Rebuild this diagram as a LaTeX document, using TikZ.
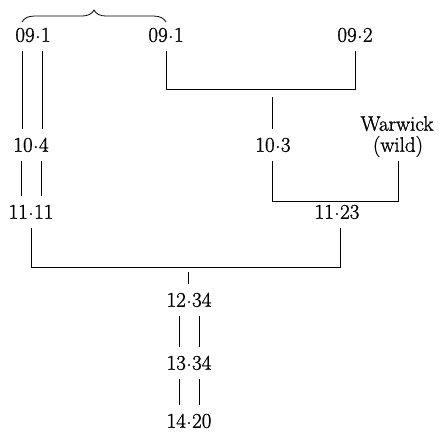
\documentclass[tikz,border=0pt]{standalone}
\usepackage{fontspec}
\usetikzlibrary{decorations.pathreplacing}
\newfontfamily\labfont{Latin Modern Roman}[FakeBold=1.1]
% raised decimal point
\newcommand\dpt{\kern0.5pt\raisebox{0.42ex}{.}\kern0.5pt}
\begin{document}
\begin{tikzpicture}[x=1pt,y=-1pt,
  lab/.style={inner xsep=2pt, inner ysep=9pt, text height=13.5pt, text depth=0pt,
              font=\labfont\fontsize{21}{24}\selectfont},
  link/.style={line width=0.8pt},
  grouping/.style={line width=0.8pt, decorate,
                   decoration={brace, amplitude=12pt, raise=-3pt}}]
\useasboundingbox (0,0) rectangle (439,431);

% generation 09
\node[lab] (a1) at (33,35)  {09\dpt 1};
\node[lab] (a2) at (166,35) {09\dpt 1};
\node[lab] (a3) at (355,35) {09\dpt 2};
% generation 10
\node[lab] (b1) at (31,145)  {10\dpt 4};
\node[lab] (b2) at (273,145) {10\dpt 3};
\node[lab] (w1) at (397,124) {Warwick};
\node[lab] (w2) at (398,145) {(wild)};
% generation 11
\node[lab] (c1) at (31,212)  {11\dpt 11};
\node[lab] (c2) at (337,212) {11\dpt 23};
% later generations
\node[lab] (d) at (189,300) {12\dpt 34};
\node[lab] (e) at (189,363) {13\dpt 34};
\node[lab] (f) at (189,421) {14\dpt 20};

% junction levels
\coordinate (j1) at (272,89);
\coordinate (j2) at (335,201);
\coordinate (j3) at (189,267);

% brace grouping the two 09.1 lines
\draw[grouping] ([xshift=-11pt]a1.north) -- (a2.north);

% 09.1 -> 10.4 -> 11.11 (double lines)
\foreach \s in {-10,10}{
  \draw[link] ([xshift=\s pt-1pt]a1.south) -- ([xshift=\s pt-1pt]a1.south |- b1.north);
  \draw[link] ([xshift=\s pt]b1.south) -- ([xshift=\s pt]b1.south |- c1.north);
}

% 09.1 x 09.2 -> 10.3
\draw[link] (a2.south) -- (a2.south |- j1) -- (a3.south |- j1) -- (a3.south);
\draw[link, shorten >=8pt] ([xshift=-1pt]b2.north) -- ([xshift=-1pt]b2.north |- j1);

% 10.3 x Warwick (wild)
\draw[link] ([xshift=-1pt]b2.south) -- ([xshift=-1pt]b2.south |- j2) -- (w2.south |- j2) -- (w2.south);

% 11.11 x 11.23 -> 12.34
\coordinate (c2s) at ([xshift=3pt]c2.south);
\draw[link] (c1.south) -- (c1.south |- j3) -- (c2s |- j3) -- (c2s);
\draw[link, shorten >=5pt] ([xshift=-1pt]d.north) -- ([xshift=-1pt]d.north |- j3);

% 12.34 -> 13.34 -> 14.20 (double lines)
\foreach \s in {-10,10}{
  \draw[link] ([xshift=\s pt]d.south) -- ([xshift=\s pt]d.south |- e.north);
  \draw[link] ([xshift=\s pt]e.south) -- ([xshift=\s pt]e.south |- f.north);
}
\end{tikzpicture}
\end{document}
